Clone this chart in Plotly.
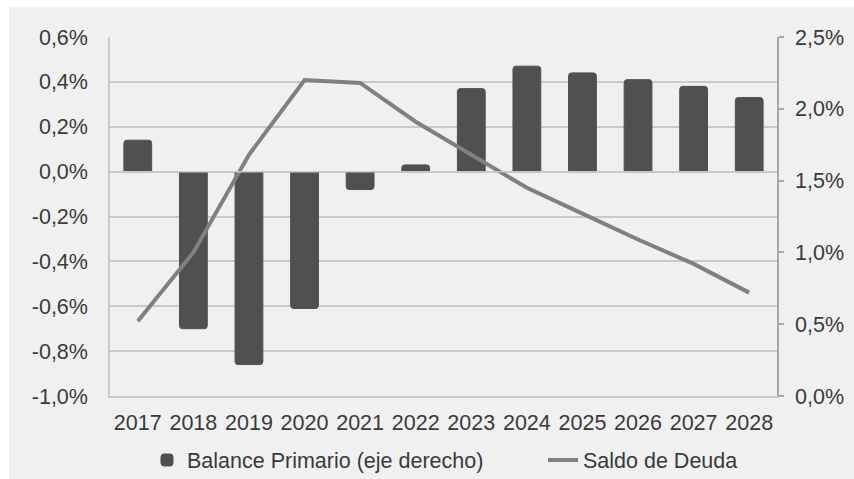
import plotly.graph_objects as go

years = ["2017", "2018", "2019", "2020", "2021", "2022", "2023", "2024", "2025", "2026", "2027", "2028"]
balance_primario = [0.14, -0.70, -0.86, -0.61, -0.08, 0.03, 0.37, 0.47, 0.44, 0.41, 0.38, 0.33]
saldo_deuda = [0.52, 1.00, 1.68, 2.20, 2.18, 1.91, 1.68, 1.45, 1.27, 1.09, 0.92, 0.72]

left_tickvals = [-1.0, -0.8, -0.6, -0.4, -0.2, 0.0, 0.2, 0.4, 0.6]
left_ticktext = ["-1,0%", "-0,8%", "-0,6%", "-0,4%", "-0,2%", "0,0%", "0,2%", "0,4%", "0,6%"]
right_tickvals = [0.0, 0.5, 1.0, 1.5, 2.0, 2.5]
right_ticktext = ["0,0%", "0,5%", "1,0%", "1,5%", "2,0%", "2,5%"]
right_range = [0.0, 2.5]

W, H = 854, 479
ML, MR, MT, MB = 110, 60, 37, 83
PLOT_RIGHT = 777          # pixel x of the right edge of the plotting area
PW, PH = W - ML - MR, H - MT - MB

BAR = "#505050"
LINE = "#808080"
GRID = "#c9c9c9"
AX2 = "#a6a6a6"
TXT = "#3a3a3a"
BG = "#f0f0f0"
FONT = "Liberation Sans, Arial, sans-serif"
FS = 21.5

fig = go.Figure()
fig.add_trace(go.Bar(
    x=years, y=balance_primario, name="Balance Primario (eje derecho)",
    marker=dict(color=BAR, line=dict(color=BAR, width=1), cornerradius=3),
    yaxis="y", legend="legend",
))
fig.add_trace(go.Scatter(
    x=years, y=saldo_deuda, name="Saldo de Deuda", mode="lines",
    line=dict(color=LINE, width=4), yaxis="y2", legend="legend2",
))
# empty helper trace so the label-only right axis is drawn
fig.add_trace(go.Scatter(x=[], y=[], yaxis="y3", showlegend=False, hoverinfo="skip"))

def px_x(p):
    return (p - ML) / PW

def px_y(p):
    return (H - MB - p) / PH

leg_common = dict(
    orientation="h", xanchor="left", y=px_y(460), yanchor="middle",
    font=dict(size=FS, color=TXT), bgcolor="rgba(0,0,0,0)",
)

fig.update_layout(
    width=W, height=H,
    margin=dict(l=ML, r=MR, t=MT, b=MB, autoexpand=False),
    paper_bgcolor=BG, plot_bgcolor=BG,
    font=dict(family=FONT, size=FS, color=TXT),
    bargap=0.5,
    showlegend=True,
    legend=dict(x=px_x(147), **leg_common),
    legend2=dict(x=px_x(543), **leg_common),
    xaxis=dict(
        type="category", domain=[0, px_x(PLOT_RIGHT)],
        showgrid=False, showline=True, linecolor=GRID, linewidth=1.5,
        ticks="", ticklabelstandoff=6, tickfont=dict(size=FS, color=TXT),
    ),
    yaxis=dict(
        range=[-1.0, 0.6], tickvals=left_tickvals, ticktext=left_ticktext,
        showgrid=True, gridcolor=GRID, gridwidth=1.5, zeroline=False,
        showline=True, linecolor=GRID, linewidth=1.5, ticks="",
        ticklabelstandoff=16, tickfont=dict(size=FS, color=TXT),
    ),
    # right axis: line and short tick marks
    yaxis2=dict(
        range=right_range, tickvals=right_tickvals, showticklabels=False,
        overlaying="y", side="right", anchor="x", showgrid=False, zeroline=False,
        showline=True, linecolor=AX2, linewidth=1.5,
        ticks="outside", ticklen=5, tickcolor=AX2, tickwidth=1.5,
    ),
    # right axis labels
    yaxis3=dict(
        range=right_range, tickvals=right_tickvals, ticktext=right_ticktext,
        overlaying="y", side="right", anchor="free", position=px_x(PLOT_RIGHT + 17),
        showgrid=False, zeroline=False, showline=False, ticks="",
        tickfont=dict(size=FS, color=TXT),
    ),
    shapes=[
        dict(type="line", xref="x domain", yref="y", x0=0, x1=1, y0=0, y1=0,
             line=dict(color=GRID, width=1.5), layer="above"),
        dict(type="rect", xref="paper", yref="paper",
             x0=px_x(0), x1=px_x(9), y0=px_y(H), y1=px_y(0),
             fillcolor="white", line=dict(width=0), layer="below"),
        dict(type="rect", xref="paper", yref="paper",
             x0=px_x(0), x1=px_x(W), y0=px_y(7), y1=px_y(0),
             fillcolor="white", line=dict(width=0), layer="below"),
    ],
)

fig.write_html("out.html")
